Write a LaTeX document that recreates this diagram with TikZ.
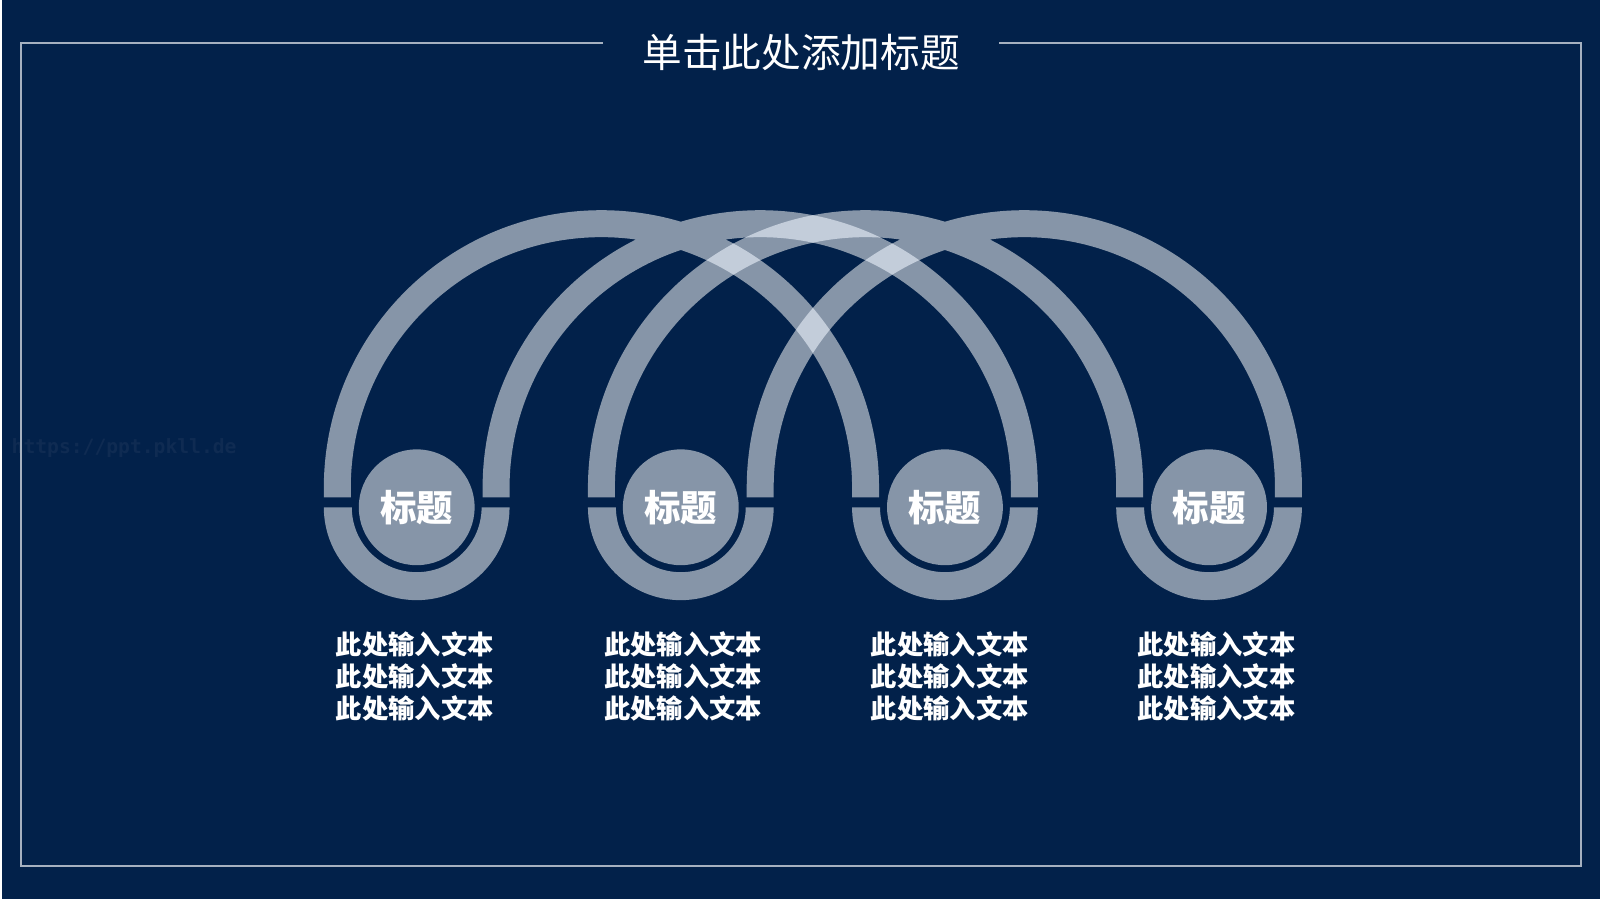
\documentclass[tikz,border=0pt]{standalone}
\usepackage{fontspec}
\newfontfamily\cjk{Noto Sans CJK SC}
\newfontfamily\wmfont{DejaVu Sans Mono}
\usetikzlibrary{positioning}
\definecolor{bgC}{HTML}{02214A}
\definecolor{ringC}{HTML}{8695A8}
\definecolor{crossC}{HTML}{C3CDDA}
\definecolor{frameC}{HTML}{A6B1C0}
\definecolor{markC}{HTML}{0F2B52}
\tikzset{
  ring/.style={fill=ringC},
  cross/.style={fill=crossC},
  badge/.style={circle, fill=ringC, minimum size=1.16cm, inner sep=0pt, text=white,
                font=\cjk\bfseries\fontsize{10.4pt}{12pt}\selectfont},
  body/.style={align=center, text=white, inner sep=0pt,
               font=\cjk\bfseries\fontsize{7.5pt}{9.1pt}\selectfont},
  heading/.style={text=white, inner ysep=2pt, inner xsep=0.39cm,
                  font=\cjk\fontsize{11.3pt}{13pt}\selectfont},
  frame/.style={draw=frameC, line width=0.6pt},
  wmark/.style={text=markC, font=\wmfont\bfseries\fontsize{5.6pt}{7pt}\selectfont},
}
% big arch over two badges, #1 = centre x
\newcommand\arch[1]{({#1-2.78},4.02) -- ({#1-2.78},4.115) arc[start angle=180,end angle=0,radius=2.78]
  -- ({#1+2.78},4.02) -- ({#1+2.51},4.02) -- ({#1+2.51},4.115) arc[start angle=0,end angle=180,radius=2.51]
  -- ({#1-2.51},4.02) -- cycle}
% half ring under a badge
\newcommand\bowl[1]{({#1-0.93},3.92) arc[start angle=180,end angle=360,radius=0.93]
  -- ({#1+0.65},3.92) arc[start angle=0,end angle=-180,radius=0.65] -- cycle}

\begin{document}
\begin{tikzpicture}
\fill[bgC] (0,0) rectangle (16,9);
\node[wmark] (url) at (1.22,4.51) {https://ppt.pkll.de};
\node[heading] (title) at (8,8.47) {单击此处添加标题};
\coordinate (tl) at (0.184,8.57);
\coordinate (br) at (15.81,0.33);
\draw[frame] (title.west |- tl) -- (tl) |- (br) |- (title.east |- tl);
% arches
\fill[ring] \arch{6.0} \arch{7.59};
\fill[ring] \arch{8.645} \arch{10.235};
\begin{scope}
  \clip \arch{6.0} \arch{7.59};
  \fill[cross] \arch{8.645} \arch{10.235};
\end{scope}
% bowls and badges
\fill[ring] \bowl{4.15} \bowl{6.795} \bowl{9.44} \bowl{12.085};
\node[badge] (t1) at (4.15,3.92) {标题};
\node[badge] (t2) at (6.795,3.92) {标题};
\node[badge] (t3) at (9.44,3.92) {标题};
\node[badge] (t4) at (12.085,3.92) {标题};
\node[body] (d1) at (4.13,2.23) {此处输入文本\\此处输入文本\\此处输入文本};
\node[body] (d2) at (6.82,2.23) {此处输入文本\\此处输入文本\\此处输入文本};
\node[body] (d3) at (9.49,2.23) {此处输入文本\\此处输入文本\\此处输入文本};
\node[body] (d4) at (12.16,2.23) {此处输入文本\\此处输入文本\\此处输入文本};
\end{tikzpicture}
\end{document}
